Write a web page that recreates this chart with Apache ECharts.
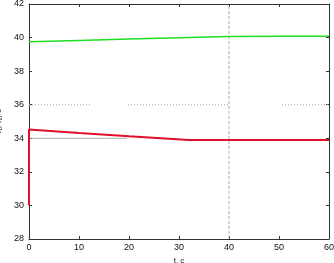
<!DOCTYPE html>
<html><head><meta charset="utf-8">
<script src="https://cdn.jsdelivr.net/npm/echarts@6/dist/echarts.min.js"></script>
<style>html,body{margin:0;padding:0;background:#fff}#c{width:334px;height:263px}</style>
</head><body><div id="c"></div>
<script>
// Data
var xTicks = [0, 10, 20, 30, 40, 50, 60];
var yTicks = [28, 30, 32, 34, 36, 38, 40, 42];
var redT = [0, 0, 10, 20, 32, 40, 60];
var redV = [30, 34.52, 34.31, 34.12, 33.9, 33.9, 33.9];
var greenT = [0, 10, 20, 30, 40, 50, 60];
var greenV = [39.75, 39.83, 39.91, 39.99, 40.07, 40.08, 40.08];
var dottedSegs = [[0, 12.6], [19.8, 39.8], [50.6, 60]]; // at level 36
var dottedLevel = 36;
var solidSeg = [0, 19.6]; // at level 34
var solidLevel = 34;
var vLineT = 40;

function pairs(t, v) { return t.map(function (x, i) { return [x, v[i]]; }); }
var dottedData = [];
dottedSegs.forEach(function (s, i) {
  if (i > 0) dottedData.push(null);
  dottedData.push([s[0], dottedLevel], [s[1], dottedLevel]);
});

var chart = echarts.init(document.getElementById('c'), null, {renderer: 'canvas'});
var font = 'Liberation Sans, Arial, sans-serif';
function axis(extra) {
  var a = {
    type: 'value', min: 0, max: 60, interval: 10,
    axisLine: {show: true, onZero: false, lineStyle: {color: '#333', width: 1}},
    axisTick: {show: true, inside: true, length: 3, lineStyle: {color: '#333'}},
    splitLine: {show: false}
  };
  for (var k in extra) a[k] = extra[k];
  return a;
}
chart.setOption({
  animation: false,
  grid: {left: 29, right: 5, top: 4, bottom: 24, show: false, containLabel: false, outerBoundsMode: 'none'},
  xAxis: [
    axis({
      position: 'bottom',
      axisLabel: {fontSize: 9, color: '#111', fontFamily: font, margin: 4},
      name: 't, c', nameLocation: 'middle', nameGap: 14,
      nameTextStyle: {fontSize: 8, color: '#111', fontFamily: font}
    }),
    axis({position: 'top', axisLabel: {show: false}})
  ],
  yAxis: [
    axis({
      min: 28, max: 42, interval: 2, position: 'left',
      axisLabel: {fontSize: 9, color: '#111', fontFamily: font, margin: 5},
      name: 'τ\u2081, τ\u2082, c', nameLocation: 'middle', nameGap: 19,
      nameTextStyle: {fontSize: 8, color: '#111', fontFamily: font}
    }),
    axis({min: 28, max: 42, interval: 2, position: 'right', axisLabel: {show: false}})
  ],
  series: [
    {type: 'line', data: dottedData, symbol: 'none', connectNulls: false, silent: true,
     lineStyle: {color: '#aaa', width: 1, type: [1, 2]}},
    {type: 'line', data: [[solidSeg[0], solidLevel], [solidSeg[1], solidLevel]], symbol: 'none', silent: true,
     lineStyle: {color: '#aaa', width: 1}},
    {type: 'line', data: [[vLineT, 28], [vLineT, 42]], symbol: 'none', silent: true,
     lineStyle: {color: '#aaa', width: 1, type: [3, 2]}},
    {type: 'line', data: pairs(greenT, greenV), symbol: 'none',
     lineStyle: {color: '#22dd22', width: 1.5}},
    {type: 'line', data: pairs(redT, redV), symbol: 'none',
     lineStyle: {color: '#e0102a', width: 2}}
  ]
});
</script></body></html>
